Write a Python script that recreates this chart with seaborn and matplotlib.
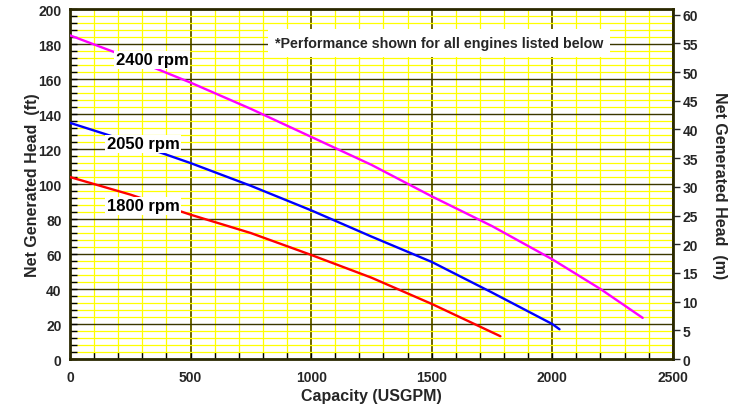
import numpy as np
import pandas as pd
import matplotlib
matplotlib.use("Agg")
import matplotlib.pyplot as plt
import seaborn as sns
from matplotlib.ticker import MultipleLocator

# ---- data ----
gpm_2400 = [0, 250, 500, 750, 1000, 1250, 1500, 1750, 2000, 2200, 2375]
head_2400 = [185, 172, 158, 143, 127, 111, 93, 76, 57, 40, 23.5]
gpm_2050 = [0, 250, 500, 750, 1000, 1250, 1500, 1750, 2000, 2030]
head_2050 = [135, 124, 112, 99, 85, 70, 55.5, 38, 20, 17]
gpm_1800 = [0, 250, 500, 750, 1000, 1250, 1500, 1785]
head_1800 = [104, 94, 82.5, 72, 59.5, 46.5, 31.5, 13]
series_names = ["1800 rpm", "2050 rpm", "2400 rpm"]
label_pos = {"2400 rpm": (340, 171), "2050 rpm": (303, 123), "1800 rpm": (303, 87.5)}
note_text = "*Performance shown for all engines listed below"
x_ticks = [0, 500, 1000, 1500, 2000, 2500]
y_ticks_ft = list(range(0, 201, 20))
y_ticks_m = list(range(0, 61, 5))
FT_PER_M = 3.2808

df = pd.concat([
    pd.DataFrame({"gpm": gpm_1800, "head": head_1800, "rpm": "1800 rpm"}),
    pd.DataFrame({"gpm": gpm_2050, "head": head_2050, "rpm": "2050 rpm"}),
    pd.DataFrame({"gpm": gpm_2400, "head": head_2400, "rpm": "2400 rpm"}),
])

sns.set_style("white")
plt.rcParams["font.family"] = ["Liberation Sans", "DejaVu Sans"]
plt.rcParams["font.weight"] = "bold"

fig = plt.figure(figsize=(7.41, 4.06), dpi=100)
ax = fig.add_axes([0.0945, 0.1133, 0.8135, 0.8617])

ax.set_xlim(0, 2500)
ax.set_ylim(0, 200)

# grid
ax.xaxis.set_major_locator(MultipleLocator(500))
ax.xaxis.set_minor_locator(MultipleLocator(100))
ax.yaxis.set_major_locator(MultipleLocator(20))
ax.yaxis.set_minor_locator(MultipleLocator(4))
ax.grid(which="minor", color="#ffff00", linewidth=0.9, zorder=0)
ax.grid(which="major", axis="x", color="#6b6500", linewidth=1.4, zorder=0.5)
ax.grid(which="major", axis="y", color="#3a3600", linewidth=1.0, zorder=0.5)
ax.set_axisbelow(True)

palette = {"1800 rpm": "#ff0000", "2050 rpm": "#0000ff", "2400 rpm": "#ff00ff"}
sns.lineplot(data=df, x="gpm", y="head", hue="rpm", palette=palette,
             linewidth=1.7, ax=ax, legend=False, zorder=3, sort=False)

for name in series_names:
    x, y = label_pos[name]
    ax.text(x, y, name, ha="center", va="center", fontsize=12, fontweight="bold",
            color="black", zorder=4,
            bbox=dict(facecolor="white", edgecolor="none", pad=1.0))

ax.text(1530, 180.5, note_text, ha="center", va="center", fontsize=10.3,
        fontweight="bold", zorder=4,
        bbox=dict(facecolor="white", edgecolor="none", pad=5))

ax.set_xticks(x_ticks)
ax.set_yticks(y_ticks_ft)
ax.tick_params(axis="both", which="major", labelsize=10, direction="in",
               length=5, width=1, color="black")
ax.tick_params(axis="x", which="major", pad=8)
ax.tick_params(axis="y", which="major", pad=6)
ax.tick_params(axis="both", which="minor", direction="in", length=5, width=1,
               color="black")
ax.tick_params(axis="x", which="both", top=False, bottom=True)
ax.tick_params(axis="y", which="both", right=False, left=True)
for lab in ax.get_xticklabels() + ax.get_yticklabels():
    lab.set_fontweight("bold")

ax.set_xlabel("Capacity (USGPM)", fontsize=11.5, fontweight="bold", labelpad=3)
ax.set_ylabel("Net Generated Head  (ft)", fontsize=11.5, fontweight="bold", labelpad=-1)

for s in ax.spines.values():
    s.set_color("#2a2800")
    s.set_linewidth(2)
    s.set_visible(True)

ax2 = ax.twinx()
ax2.set_ylim(0, 200 / FT_PER_M)
ax2.set_yticks(y_ticks_m)
ax2.tick_params(axis="y", direction="out", length=5, width=1, labelsize=10, pad=2)
for lab in ax2.get_yticklabels():
    lab.set_fontweight("bold")
ax2.set_ylabel("Net Generated Head  (m)", fontsize=11.5, fontweight="bold",
               rotation=270, labelpad=21)
for s in ax2.spines.values():
    s.set_visible(False)

fig.savefig("out.png", dpi=100, facecolor="white")
